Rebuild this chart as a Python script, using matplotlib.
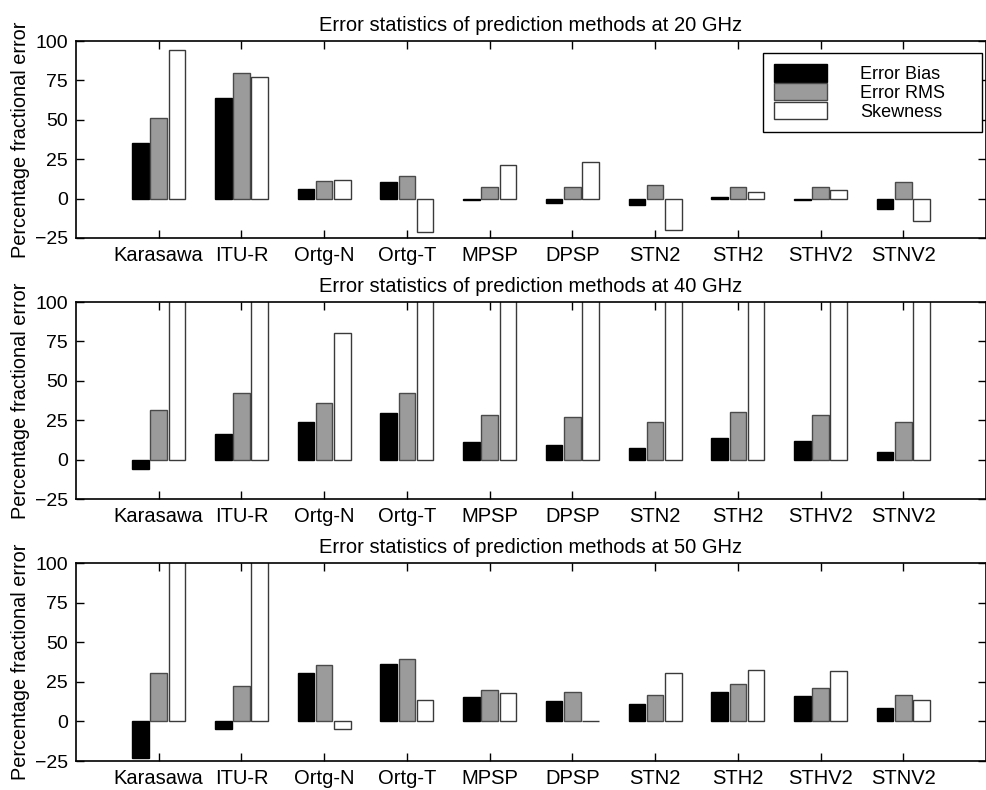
import matplotlib
matplotlib.use("Agg")
import matplotlib.pyplot as plt
import numpy as np

plt.rcParams['font.family'] = ['Liberation Sans', 'DejaVu Sans']

methods = ["Karasawa", "ITU-R", "Ortg-N", "Ortg-T", "MPSP", "DPSP",
           "STN2", "STH2", "STHV2", "STNV2"]
series_names = ["Error Bias", "Error RMS", "Skewness"]
frequencies = ["20", "40", "50"]

# 20 GHz
bias_20 = [35.5, 64, 6.3, 10.8, -1.0, -2.7, -4.2, 0.8, -0.6, -6.3]
rms_20 = [51, 80, 11.4, 14.4, 7.2, 7.4, 8.5, 7.2, 7.2, 10.4]
skew_20 = [94.5, 77, 11.8, -21, 21.4, 23, -20, 4.2, 5.3, -14.2]
# 40 GHz (skewness values above 100 run off the top of the axes)
bias_40 = [-5.9, 16.2, 23.6, 29.5, 11, 9.1, 7.6, 13.9, 11.6, 4.6]
rms_40 = [31.2, 42.2, 36, 42.4, 28, 27, 24, 30.1, 28.2, 24]
skew_40 = [130, 130, 80.1, 130, 130, 130, 130, 130, 130, 130]
# 50 GHz
bias_50 = [-23.4, -4.8, 30.8, 36.5, 15.2, 13.1, 11.2, 18.5, 16, 8.4]
rms_50 = [30.4, 22.6, 35.6, 39.6, 20, 18.5, 16.7, 23.4, 21.3, 16.7]
skew_50 = [130, 130, -4.8, 13.5, 18.1, 0.3, 30.6, 32.3, 31.8, 13.5]

panels = [(bias_20, rms_20, skew_20), (bias_40, rms_40, skew_40),
          (bias_50, rms_50, skew_50)]

W, H = 987, 790
fig = plt.figure(figsize=(W / 100, H / 100), dpi=100)

left_px, right_px = 76, 986
tops = [41, 302, 563]
bottoms = [238, 499, 761]

fills = ["black", "#9b9b9b", "white"]
edges = ["black", "#4a4a4a", "#3a3a3a"]
x = np.arange(1, len(methods) + 1)
offsets = [-0.22, 0.0, 0.22]
bw = 0.2

for i, (vals, freq) in enumerate(zip(panels, frequencies)):
    ax = fig.add_axes([left_px / W, 1 - bottoms[i] / H,
                       (right_px - left_px) / W, (bottoms[i] - tops[i]) / H])
    handles = []
    for k in range(3):
        b = ax.bar(x + offsets[k], vals[k], width=bw, color=fills[k],
                   edgecolor=edges[k], linewidth=1.0, label=series_names[k])
        handles.append(b)
    ax.set_xlim(0, 11)
    ax.set_ylim(-25, 100)
    ax.set_yticks([-25, 0, 25, 50, 75, 100])
    ax.set_xticks(x)
    ax.set_xticklabels(methods, fontsize=14.5)
    ax.tick_params(axis='y', labelsize=14)
    ax.tick_params(direction='in', length=6, width=1, top=True, right=True,
                   pad=6)
    for s in ax.spines.values():
        s.set_linewidth(1.2)
    ax.set_title(f"Error statistics of prediction methods at {freq} GHz",
                 fontsize=14.5, pad=7)
    ax.set_ylabel("Percentage fractional error", fontsize=14.3, labelpad=3)
    if i == 0:
        axw = right_px - left_px
        axh = bottoms[i] - tops[i]
        x0 = (763 - left_px) / axw
        wbox = (982 - 763) / axw
        ytop = (bottoms[i] - 53) / axh
        leg = ax.legend(handles=handles, loc='upper left',
                        bbox_to_anchor=(x0, ytop - 0.4, wbox, 0.4),
                        mode='expand', fontsize=13,
                        handlelength=2.95, handleheight=1.13,
                        labelspacing=0.0, handletextpad=1.85,
                        borderpad=0.6, fancybox=False, framealpha=1,
                        edgecolor='black', borderaxespad=0)
        leg.get_frame().set_linewidth(1.0)

fig.savefig("out.png", dpi=100)
